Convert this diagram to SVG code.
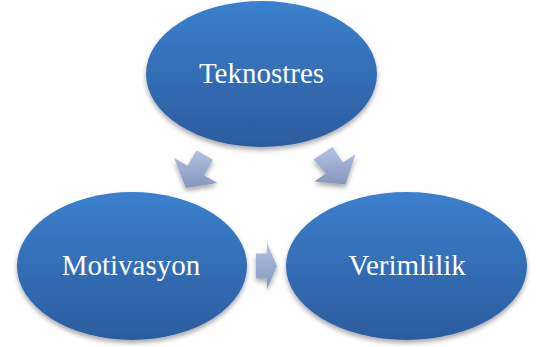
<svg xmlns="http://www.w3.org/2000/svg" width="536" height="347" viewBox="0 0 536 347">
<defs>
<linearGradient id="gEll" x1="0" y1="0" x2="0" y2="1">
<stop offset="0" stop-color="#3b80ce"/>
<stop offset="1" stop-color="#2c5c9e"/>
</linearGradient>
<linearGradient id="gArr" x1="0" y1="0" x2="0" y2="1">
<stop offset="0" stop-color="#b3c3e3"/>
<stop offset="1" stop-color="#8596be"/>
</linearGradient>
<filter id="sh" x="-20%" y="-20%" width="140%" height="150%">
<feGaussianBlur in="SourceAlpha" stdDeviation="2.5"/>
<feOffset dx="0" dy="3" result="b"/>
<feComponentTransfer><feFuncA type="linear" slope="0.35"/></feComponentTransfer>
<feMerge><feMergeNode/><feMergeNode in="SourceGraphic"/></feMerge>
</filter>
</defs>
<style>
.node{fill:url(#gEll);filter:url(#sh)}
.arr{fill:url(#gArr);filter:url(#sh)}
.lbl{font-family:'Liberation Serif','Times New Roman',serif;font-size:29px;fill:#ffffff;text-anchor:middle}
</style>
<rect width="536" height="347" fill="#ffffff"/>
<g id="connectors">
<polygon class="arr" points="213.0,159.75 204.0,175.3 217.45,183.1 185.8,187.9 174.15,158.1 187.6,165.8 196.6,150.25"/>
<polygon class="arr" points="332.5,147 342.8,162.4 355.3,154.5 345.5,184.4 314.3,181.5 325.8,173.5 313.5,159.5"/>
<polygon class="arr" points="256,253.5 267,253.5 267,242.5 277,266 267,289.5 267,278.5 256,278.5"/>
</g>
<g id="teknostres">
<ellipse class="node" cx="261.5" cy="74" rx="115.5" ry="73"/>
<text class="lbl" x="261.5" y="83">Teknostres</text>
</g>
<g id="motivasyon">
<ellipse class="node" cx="132" cy="266" rx="115" ry="74"/>
<text class="lbl" x="131" y="275">Motivasyon</text>
</g>
<g id="verimlilik">
<ellipse class="node" cx="406.5" cy="266" rx="120.5" ry="74"/>
<text class="lbl" x="407" y="275">Verimlilik</text>
</g>
</svg>
